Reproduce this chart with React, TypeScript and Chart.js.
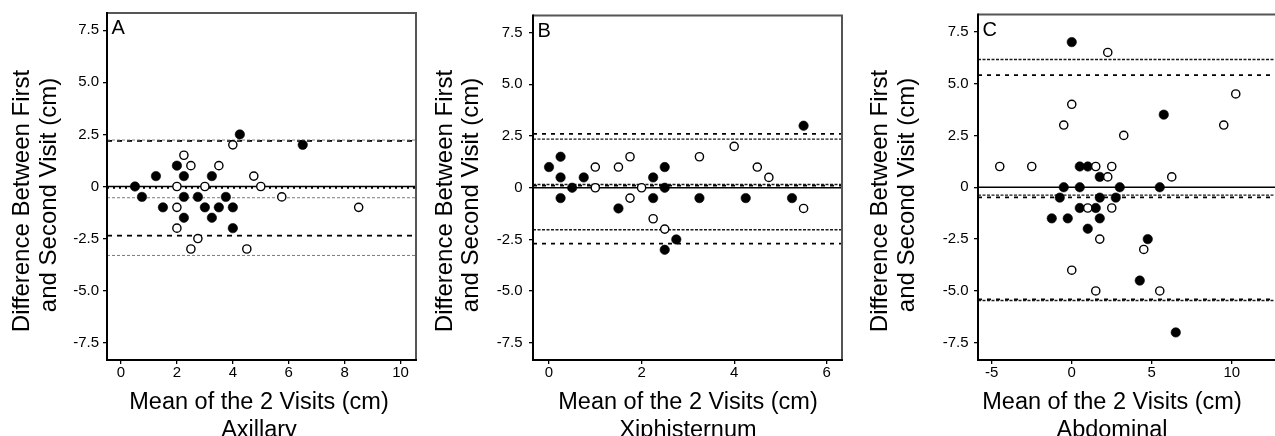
import React, { useEffect, useRef } from 'react';
import { Chart, registerables } from 'chart.js';

Chart.register(...registerables);

const FONT_FAMILY = '"Liberation Sans", Arial, Helvetica, sans-serif';

// ---------- shared axis data ----------
const yTickValues = [-7.5, -5, -2.5, 0, 2.5, 5, 7.5];
const yTickLabels = ['-7.5', '-5.0', '-2.5', '0', '2.5', '5.0', '7.5'];
const yTitleLines = ['Difference Between First', 'and Second Visit (cm)'];
const xTitleLine = 'Mean of the 2 Visits (cm)';
const zeroLine = [0];

// ---------- A: Axillary ----------
const axillaryXTicks = [0, 2, 4, 6, 8, 10];
const axillaryFilled: number[][] = [
  [0.5, 0], [0.75, -0.5], [1.25, 0.5], [1.5, -1], [2, 1], [2.25, 0.5], [2.25, -0.5],
  [2.25, -1.5], [2.75, -0.5], [3, -1], [3.25, 0.5], [3.25, -1.5], [3.5, -1], [3.75, -0.5],
  [4, -1], [4, -2], [4.25, 2.5], [6.5, 2],
];
const axillaryOpen: number[][] = [
  [2.25, 1.5], [2.5, 1], [3.5, 1], [4, 2], [4.75, 0.5], [2, 0], [3, 0], [5, 0],
  [5.75, -0.5], [2, -1], [8.5, -1], [2, -2], [2.75, -2.5], [2.5, -3], [4.5, -3],
];
const axillaryBlackMean = [-0.06];
const axillaryBlackLimits = [2.19, -2.36];
const axillaryGreyLines = [-0.54, 2.23, -3.31];

// ---------- B: Xiphisternum ----------
const xiphXTicks = [0, 2, 4, 6];
const xiphFilled: number[][] = [
  [0, 1], [0.25, 1.5], [0.25, 0.5], [0.25, -0.5], [0.5, 0], [0.75, 0.5], [1.5, -1],
  [2.25, 0.5], [2.25, -0.5], [2.5, 1], [2.5, 0], [2.5, -3], [2.75, -2.5], [3.25, -0.5],
  [4.25, -0.5], [5.25, -0.5], [5.5, 3],
];
const xiphOpen: number[][] = [
  [1, 1], [1, 0], [1.5, 1], [1.75, 1.5], [1.75, -0.5], [2, 0], [2.25, -1.5], [2.5, -2],
  [3.25, 1.5], [4, 2], [4.5, 1], [4.75, 0.5], [5.5, -1],
];
const xiphSpacedLines = [2.61, 0.1, -2.7];
const xiphDenseLines = [2.35, 0.16, -2.03];

// ---------- C: Abdominal ----------
const abdXTicks = [-5, 0, 5, 10];
const abdFilled: number[][] = [
  [0, 7], [-0.5, 0], [-0.75, -0.5], [-1.25, -1.5], [-0.25, -1.5], [0.5, 1], [1, 1],
  [0.5, 0], [0.5, -1], [1, -2], [1.5, -1], [1.75, 0.5], [1.75, -0.5], [1.75, -1.5],
  [2.75, -0.5], [3, 0], [5.5, 0], [5.75, 3.5], [4.75, -2.5], [4.25, -4.5], [6.5, -7],
];
const abdOpen: number[][] = [
  [-4.5, 1], [-2.5, 1], [-0.5, 3], [0, 4], [0, -4], [1.5, 1], [2.5, 1], [2.25, 0.5],
  [1, -1], [2.5, -1], [1.75, -2.5], [1.5, -5], [2.25, 6.5], [3.25, 2.5], [4.5, -3],
  [5.5, -5], [6.25, 0.5], [9.5, 3], [10.25, 4.5],
];
const abdSpacedLines = [5.41, -0.49, -5.41];
const abdDenseLines = [6.16, -0.38, -5.46];

// ---------- layout / style (not data) ----------
const H = 436;
const CHART_TOP = 13;
const CHART_BOTTOM = 360;

type LineGroup = { values: number[]; color: string; width: number; dash: number[] };
type PanelSpec = {
  letter: string;
  region: string;
  canvasLeft: number;
  canvasWidth: number;
  chartLeft: number;
  chartRight: number;
  xMin: number;
  xMax: number;
  xTicks: number[];
  filled: number[][];
  open: number[][];
  lines: LineGroup[];
  yTickPad: number;
  yTitleX: [number, number];
  yTitleCY: [number, number];
  xTitleCX: number;
};

const spacedStyle = { color: '#000', width: 1.8, dash: [4, 5] };
const denseStyle = { color: '#1a1a1a', width: 1.4, dash: [3, 1.5] };

const panels: PanelSpec[] = [
  {
    letter: 'A', region: 'Axillary',
    canvasLeft: 0, canvasWidth: 418, chartLeft: 107, chartRight: 416,
    xMin: -0.5, xMax: 10.55, xTicks: axillaryXTicks,
    filled: axillaryFilled, open: axillaryOpen,
    lines: [
      { values: axillaryGreyLines, color: '#7a7a7a', width: 1, dash: [3, 2] },
      { values: axillaryBlackMean, color: '#000', width: 2, dash: [2, 4] },
      { values: axillaryBlackLimits, color: '#000', width: 1.8, dash: [5, 5] },
    ],
    yTickPad: 4, yTitleX: [29.3, 55.8], yTitleCY: [201, 195], xTitleCX: 259,
  },
  {
    letter: 'B', region: 'Xiphisternum',
    canvasLeft: 426, canvasWidth: 418, chartLeft: 533, chartRight: 842,
    xMin: -0.346, xMax: 6.33, xTicks: xiphXTicks,
    filled: xiphFilled, open: xiphOpen,
    lines: [
      { values: xiphDenseLines, ...denseStyle },
      { values: xiphSpacedLines, ...spacedStyle },
    ],
    yTickPad: 6.5, yTitleX: [451.6, 478.1], yTitleCY: [201, 195], xTitleCX: 688,
  },
  {
    letter: 'C', region: 'Abdominal',
    canvasLeft: 852, canvasWidth: 440, chartLeft: 978, chartRight: 1290,
    xMin: -5.86, xMax: 13.64, xTicks: abdXTicks,
    filled: abdFilled, open: abdOpen,
    lines: [
      { values: abdDenseLines, ...denseStyle },
      { values: abdSpacedLines, ...spacedStyle },
    ],
    yTickPad: 5.5, yTitleX: [887, 913.5], yTitleCY: [201, 195], xTitleCX: 1112,
  },
];

function Panel({ spec }: { spec: PanelSpec }) {
  const ref = useRef<HTMLCanvasElement | null>(null);

  useEffect(() => {
    const canvas = ref.current;
    if (!canvas) return;
    const off = spec.canvasLeft;
    const rightPad = spec.canvasWidth - (spec.chartRight - off);

    const hLine = (v: number) => [
      { x: spec.xMin, y: v },
      { x: spec.xMax, y: v },
    ];

    const datasets: any[] = [
      {
        label: 'open',
        data: spec.open.map(([x, y]) => ({ x, y })),
        pointRadius: 4.1,
        pointBorderWidth: 1.4,
        pointBackgroundColor: '#fff',
        pointBorderColor: '#000',
        showLine: false,
        order: 0,
      },
      {
        label: 'filled',
        data: spec.filled.map(([x, y]) => ({ x, y })),
        pointRadius: 4.7,
        pointBorderWidth: 0.6,
        pointBackgroundColor: '#000',
        pointBorderColor: '#000',
        showLine: false,
        order: 1,
      },
    ];
    spec.lines.forEach((g, gi) => {
      g.values.forEach((v) => {
        datasets.push({
          label: 'limit',
          data: hLine(v),
          showLine: true,
          pointRadius: 0,
          borderColor: g.color,
          borderWidth: g.width,
          borderDash: g.dash,
          fill: false,
          order: 3 + gi,
        });
      });
    });
    zeroLine.forEach((v) => {
      datasets.push({
        label: 'zero',
        data: hLine(v),
        showLine: true,
        pointRadius: 0,
        borderColor: '#000',
        borderWidth: 1.4,
        fill: false,
        order: 2,
      });
    });

    const decor = {
      id: 'panelDecor',
      afterDraw(chart: any) {
        const { ctx, chartArea } = chart;
        const { left, right, top, bottom } = chartArea;
        ctx.save();
        // frame
        ctx.lineWidth = 2;
        ctx.strokeStyle = '#555';
        ctx.beginPath();
        ctx.moveTo(left, top);
        ctx.lineTo(right, top);
        ctx.lineTo(right, bottom);
        ctx.stroke();
        ctx.strokeStyle = '#000';
        ctx.beginPath();
        ctx.moveTo(left, top - 1);
        ctx.lineTo(left, bottom);
        ctx.lineTo(right + 1, bottom);
        ctx.stroke();

        ctx.fillStyle = '#000';
        // panel letter
        ctx.font = `20px ${FONT_FAMILY}`;
        ctx.textAlign = 'left';
        ctx.textBaseline = 'alphabetic';
        ctx.fillText(spec.letter, left + 4.5, top + 21.3);

        // y title (rotated)
        ctx.font = `24px ${FONT_FAMILY}`;
        ctx.textAlign = 'center';
        ctx.textBaseline = 'alphabetic';
        yTitleLines.forEach((line, i) => {
          ctx.save();
          ctx.translate(spec.yTitleX[i] - off, spec.yTitleCY[i]);
          ctx.rotate(-Math.PI / 2);
          ctx.fillText(line, 0, 0);
          ctx.restore();
        });

        // x title
        ctx.font = `23.5px ${FONT_FAMILY}`;
        ctx.textAlign = 'center';
        ctx.fillText(xTitleLine, spec.xTitleCX - off, 408.5);
        ctx.fillText(spec.region, spec.xTitleCX - off, 436.5);
        ctx.restore();
      },
    };

    const tickFont = { family: FONT_FAMILY, size: 15 };

    const chart = new Chart(canvas, {
      type: 'scatter',
      data: { datasets },
      options: {
        responsive: false,
        animation: false,
        devicePixelRatio: 1,
        events: [],
        layout: {
          autoPadding: false,
          padding: { top: CHART_TOP, bottom: 0, left: 0, right: rightPad },
        },
        plugins: {
          legend: { display: false },
          tooltip: { enabled: false },
          title: { display: false },
        },
        scales: {
          x: {
            type: 'linear',
            min: spec.xMin,
            max: spec.xMax,
            afterFit: (s: any) => {
              s.height = H - CHART_BOTTOM;
            },
            afterBuildTicks: (s: any) => {
              s.ticks = spec.xTicks.map((v) => ({ value: v }));
            },
            ticks: {
              font: tickFont,
              color: '#000',
              padding: 0,
              maxRotation: 0,
              autoSkip: false,
              callback: (v: any) => String(v),
            },
            grid: {
              display: true,
              drawOnChartArea: false,
              drawTicks: true,
              tickLength: 4,
              color: '#000',
              lineWidth: 1.3,
            },
            border: { display: false },
          },
          y: {
            type: 'linear',
            min: -8.33,
            max: 8.33,
            afterFit: (s: any) => {
              s.width = spec.chartLeft - off;
            },
            afterBuildTicks: (s: any) => {
              s.ticks = yTickValues.map((v) => ({ value: v }));
            },
            ticks: {
              font: tickFont,
              color: '#000',
              padding: spec.yTickPad,
              autoSkip: false,
              callback: (_v: any, i: number) => yTickLabels[i],
            },
            grid: {
              display: true,
              drawOnChartArea: false,
              drawTicks: true,
              tickLength: 4,
              color: '#000',
              lineWidth: 1.3,
            },
            border: { display: false },
          },
        },
      },
      plugins: [decor],
    } as any);

    return () => chart.destroy();
  }, [spec]);

  return (
    <canvas
      ref={ref}
      width={spec.canvasWidth}
      height={H}
      style={{
        position: 'absolute',
        left: spec.canvasLeft,
        top: 0,
        width: spec.canvasWidth,
        height: H,
      }}
    />
  );
}

export default function App() {
  return (
    <div
      style={{
        position: 'absolute',
        left: 0,
        top: 0,
        width: 1275,
        height: H,
        overflow: 'hidden',
        background: '#fff',
      }}
    >
      {panels.map((p) => (
        <Panel key={p.letter} spec={p} />
      ))}
    </div>
  );
}
